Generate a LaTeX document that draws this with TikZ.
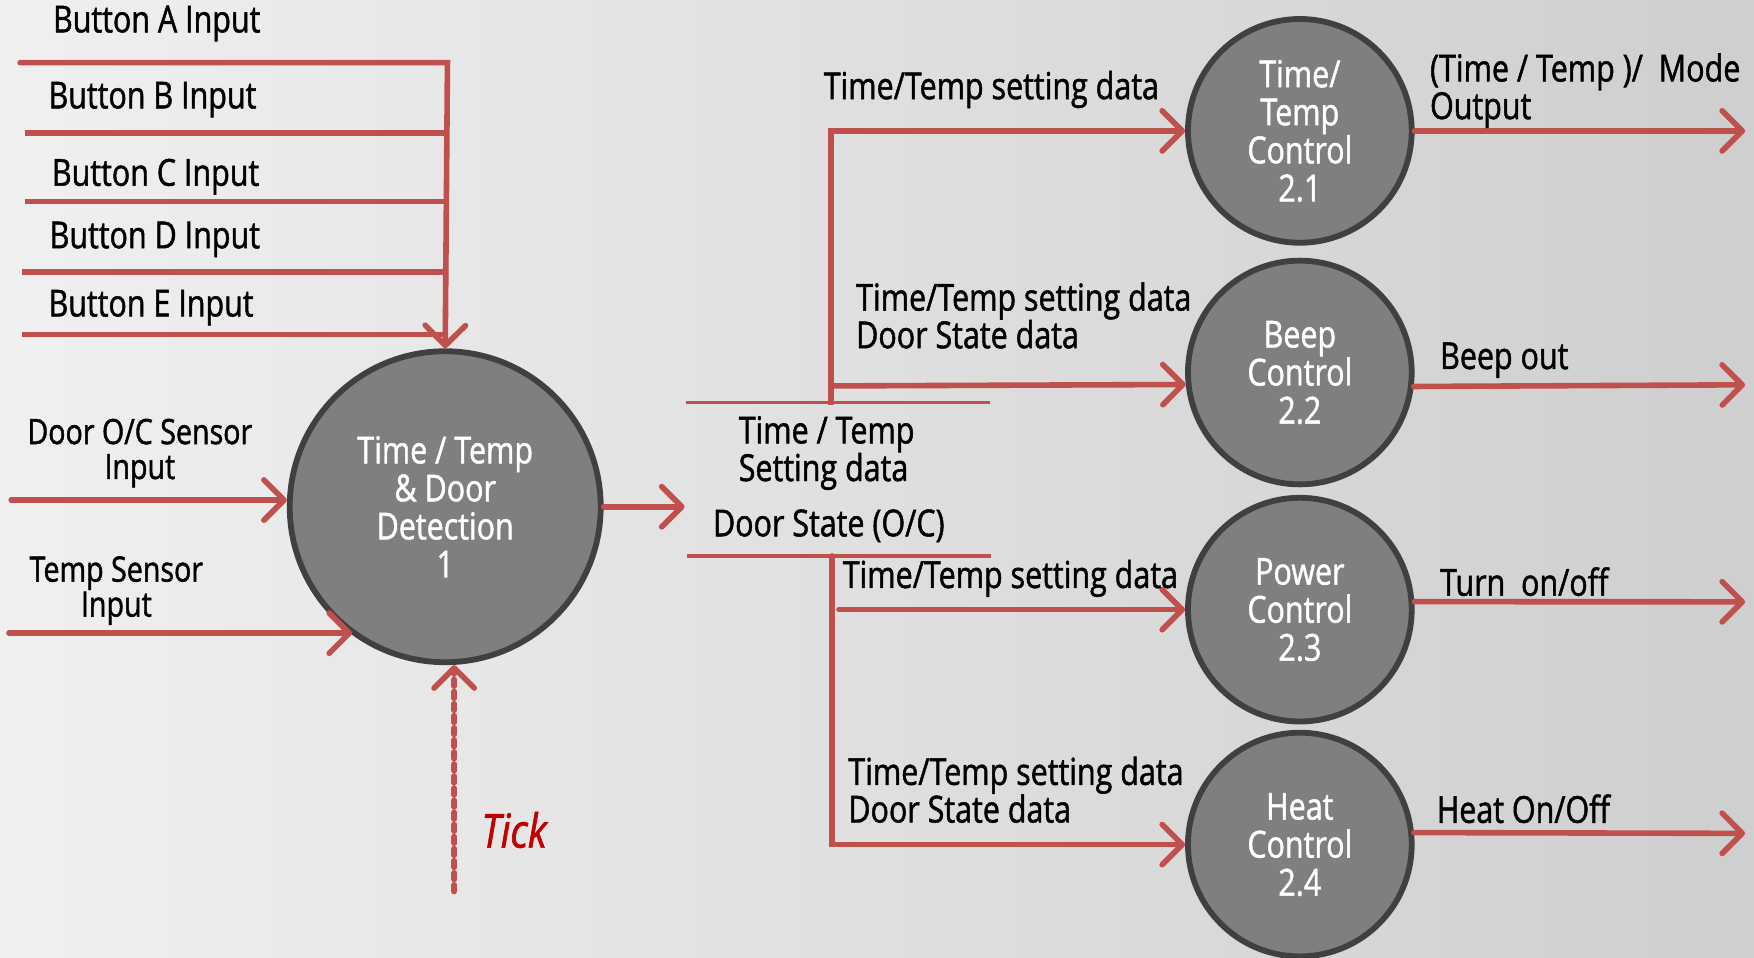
\documentclass[tikz,border=0pt]{standalone}
\usepackage{fontspec}
\setmainfont{Open Sans}[FakeStretch=0.82, FakeBold=1.3]
\usetikzlibrary{arrows.meta}
\definecolor{flowred}{RGB}{192,80,77}
\definecolor{procfill}{RGB}{127,127,127}
\definecolor{procline}{RGB}{64,64,64}
\definecolor{tickred}{RGB}{192,0,0}

\begin{document}
\begin{tikzpicture}[
        x=0.5pt, y=-0.5pt,
        every node/.style={inner sep=0pt, font=\fontsize{16.6}{16.8}\selectfont},
        flow/.style={draw=flowred, line width=2.5pt, line cap=round,
          -{Straight Barb[length=9pt,width=18pt,round]}},
        wire/.style={draw=flowred, line width=2.5pt},
        storeline/.style={draw=flowred, line width=1.6pt},
        proc/.style={circle, fill=procfill, draw=procline, line width=2.6pt,
          text=white, align=center, font=\fontsize{16.6}{17}\selectfont},
        lbl/.style={anchor=west, align=left},
        sensor/.style={align=center, font=\fontsize{15.6}{15.6}\selectfont}
      ]
      \useasboundingbox (0,0) rectangle (1568,856);
      \shade[shading angle=135, left color=black!6, right color=black!19]
        (0,0) rectangle (1568,856);

      \node (proc1) [proc, minimum size=139pt] at (398,453)
        {Time / Temp\\\& Door\\Detection\\1};
      \node (p21) [proc, minimum size=100pt] at (1162,117) {Time/\\Temp\\Control\\2.1};
      \node (p22) [proc, minimum size=100pt] at (1162,333) {Beep\\Control\\2.2};
      \node (p23) [proc, minimum size=100pt] at (1162,545) {Power\\Control\\2.3};
      \node (p24) [proc, minimum size=100pt] at (1162,755) {Heat\\Control\\2.4};

      \node (btnA) [lbl] at (47,21) {Button A Input};
      \node (btnB) [lbl] at (43,89) {Button B Input};
      \node (btnC) [lbl] at (46,158) {Button C Input};
      \node (btnD) [lbl] at (44,214) {Button D Input};
      \node (btnE) [lbl] at (43,275) {Button E Input};
      \node (door) [sensor] at (125,405) {Door O/C Sensor\\Input};
      \node (temp) [sensor] at (104,528) {Temp Sensor\\Input};
      \node (tick) [anchor=west, text=tickred, font=\fontsize{21}{22}\selectfont\itshape]
        at (430,742) {Tick};

      \coordinate (btnA-w) at (18,56);
      \coordinate (btnA-e) at (400,56);
      \coordinate (btnB-w) at (22,119);
      \coordinate (btnB-e) at (400,119);
      \coordinate (btnC-w) at (22,180);
      \coordinate (btnC-e) at (400,180);
      \coordinate (btnD-w) at (20,243);
      \coordinate (btnD-e) at (400,243);
      \coordinate (btnE-w) at (20,299);
      \coordinate (btnE-e) at (400,299);
      \coordinate (door-in) at (10,447);
      \coordinate (temp-in) at (8,566);
      \coordinate (tick-in) at (406,797);

      \draw[wire] (btnB-w) -- (btnB-e);
      \draw[wire] (btnC-w) -- (btnC-e);
      \draw[wire] (btnD-w) -- (btnD-e);
      \draw[wire] (btnE-w) -- (btnE-e);
      \draw[flow] (btnA-w) -- (btnA-e) -- (proc1.north);
      \draw[flow] (door-in) -- (door-in -| proc1.west);
      \draw[flow] (temp-in) -- (temp-in -| proc1.234);
      \draw[flow, dash pattern=on 3pt off 2.4pt] (tick-in) -- (tick-in |- proc1.south);

      \coordinate (st-in) at (612,453);
      \coordinate (st-tl) at (613,360);
      \coordinate (st-tr) at (885,360);
      \coordinate (st-bl) at (614,497);
      \coordinate (st-br) at (886,497);
      \draw[storeline] (st-tl) -- (st-tr);
      \draw[storeline] (st-bl) -- (st-br);
      \draw[flow] (proc1.east) -- (st-in);
      \node (store) [lbl] at (660,405) {Time / Temp\\Setting data};
      \node (doorst) [lbl] at (637,470) {Door State (O/C)};

      \coordinate (up-foot) at (743,362);
      \coordinate (up-top) at (743,117);
      \coordinate (up-mid) at (743,345);
      \coordinate (lo-top) at (744,497);
      \coordinate (lo-bot) at (744,755);
      \coordinate (pw-src) at (750,545);
      \draw[wire] (up-foot) -- (up-mid);
      \draw[flow] (up-mid) -- (up-top) -- (p21.west);
      \draw[flow] (up-mid) -- (p22.186);
      \draw[flow] (lo-top) -- (lo-bot) -- (p24.west);
      \draw[flow] (pw-src) -- (p23.west);

      \node (d21) [lbl] at (736,80) {Time/Temp setting data};
      \node (d22) [lbl] at (765,282) {Time/Temp setting data\\Door State data};
      \node (d23) [lbl] at (753,517) {Time/Temp setting data};
      \node (d24) [lbl] at (758,706) {Time/Temp setting data\\Door State data};

      \coordinate (o21) at (1560,117);
      \coordinate (o22) at (1560,344);
      \coordinate (o23) at (1560,538);
      \coordinate (o24) at (1560,745);
      \draw[flow] (p21.east) -- (o21);
      \draw[flow] (p22.-7) -- (o22);
      \draw[flow] (p23.4) -- (o23);
      \draw[flow] (p24.6) -- (o24);

      \node (out21) [lbl] at (1278,81) {(Time / Temp )/\ \ Mode\\Output};
      \node (out22) [lbl] at (1287,322) {Beep out};
      \node (out23) [lbl] at (1287,520) {Turn\ \ on/off};
      \node (out24) [lbl] at (1284,723) {Heat On/Off};
    \end{tikzpicture}
\end{document}
